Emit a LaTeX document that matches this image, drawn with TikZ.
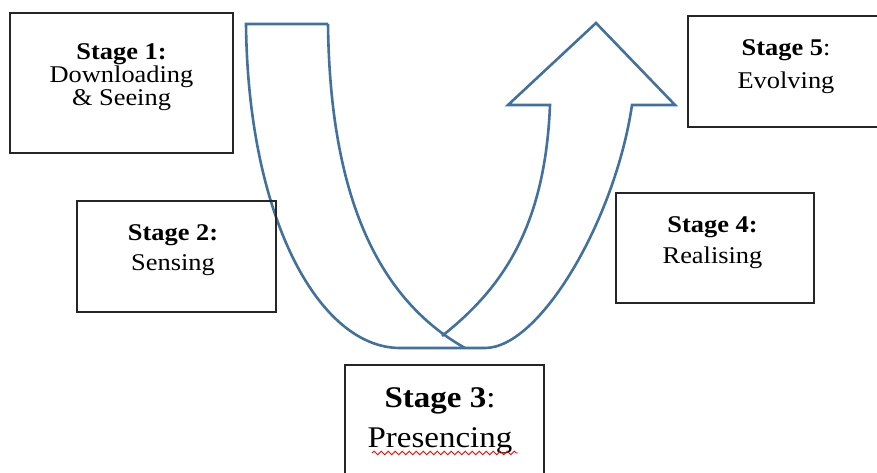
\documentclass[tikz,border=0pt]{standalone}
\usepackage{fontspec}
\setmainfont[FakeStretch=1.1]{Liberation Serif}
\usetikzlibrary{decorations.pathmorphing}
\definecolor{arrowblue}{RGB}{65,113,156}
\tikzset{
    stagebox/.style={draw=black!85, line width=1.5pt},
    stagetext/.style={align=center, anchor=north, inner sep=0pt, font=\fontsize{24}{23}\selectfont},
    uturn/.style={draw=arrowblue, line width=2.6pt, line join=miter},
}

\begin{document}
\begin{tikzpicture}[x=1pt, y=-1pt]
    \clip (0, 0) rectangle (877, 473);
    \draw [uturn] (328, 24) -- (246, 24)
        .. controls (248, 220) and (320, 348) .. (400, 348) -- (485, 348)
        .. controls (540, 348) and (615, 220) .. (632, 105)
        -- (675, 105) -- (596, 23) -- (508, 105) -- (550, 105)
        .. controls (545, 230) and (500, 290) .. (442, 336);
    \draw [uturn] (328, 24) .. controls (330, 200) and (380, 300) .. (465, 348);

    \draw [stagebox] (10, 13) rectangle (233, 153);
    \node [stagetext] (stage1) at (121.5, 43.5) {\textbf{Stage 1:}\\Downloading\\\& Seeing};
    \draw [stagebox] (77, 201) rectangle (276, 312);
    \node [stagetext] (stage2) at (173, 224.5) {\textbf{Stage 2:}\\[7pt]Sensing};
    \draw [stagebox] (345, 365) rectangle (544, 480);
    \node [stagetext, font=\fontsize{30}{40}\selectfont] (stage3) at (440, 387) {\textbf{Stage 3}:\\Presencing};
    \draw [red, line width=0.9pt, decorate, decoration={snake, amplitude=1.8pt, segment length=7pt}] (372, 453) -- (518, 453);
    \draw [stagebox] (616, 193) rectangle (814, 303);
    \node [stagetext] (stage4) at (712.5, 216.5) {\textbf{Stage 4:}\\[8pt]Realising};
    \draw [stagebox] (688, 16) rectangle (885, 127);
    \node [stagetext] (stage5) at (786, 39.5) {\textbf{Stage 5}:\\[10pt]Evolving};
\end{tikzpicture}
\end{document}
